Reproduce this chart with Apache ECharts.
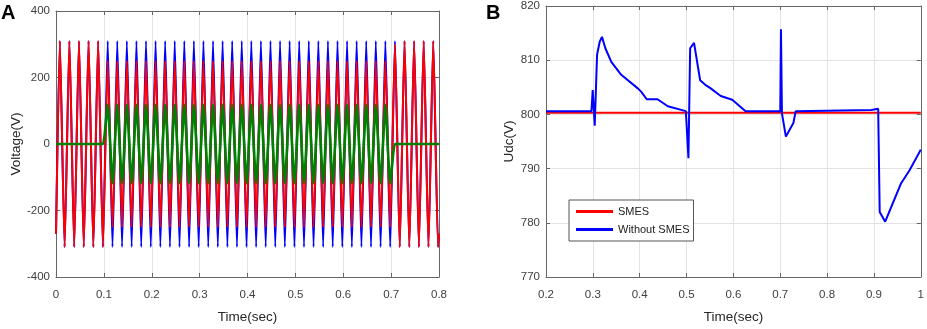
<!DOCTYPE html>
<html>
<head>
<meta charset="utf-8">
<script src="https://cdn.jsdelivr.net/npm/echarts@6/dist/echarts.min.js"></script>
<style>
html,body{margin:0;padding:0;background:#fff;}
#c{width:927px;height:329px;}
</style>
</head>
<body>
<div id="c"></div>
<script>
// ---------- Panel A: voltage waveforms (extremum values per half-cycle) ----------
const waveT0 = 0.008;        // time of first positive peak (s)
const waveHalfPeriod = 0.01; // 50 Hz
const waveStart = { blue: -270, red: -270, green: 0 };
const waveEnd   = { blue: -270, red: -270, green: 0 };
const blueExt = [
  310,-310,310,-310,310,-310,310,-310,310,-310,
  310,-310,310,-310,310,-310,310,-310,310,-310,
  310,-310,310,-310,310,-310,310,-310,310,-310,
  310,-310,310,-310,310,-310,310,-310,310,-310,
  310,-310,310,-310,310,-310,310,-310,310,-310,
  310,-310,310,-310,310,-310,310,-310,310,-310,
  310,-310,310,-310,310,-310,310,-310,310,-310,
  310,-310,310,-310,310,-310,310,-310,310,-310
];
const redExt = [
  310,-310,310,-310,310,-310,310,-310,310,-310,
  250,-250,250,-250,250,-250,250,-250,250,-250,
  250,-250,250,-250,250,-250,250,-250,250,-250,
  250,-250,250,-250,250,-250,250,-250,250,-250,
  250,-250,250,-250,250,-250,250,-250,250,-250,
  250,-250,250,-250,250,-250,250,-250,250,-250,
  250,-250,250,-250,250,-250,250,-250,250,-250,
  300,-310,310,-310,310,-310,310,-310,310,-310
];
const greenExt = [
  0,0,0,0,0,0,0,0,0,0,
  118,-118,118,-118,118,-118,118,-118,118,-118,
  118,-118,118,-118,118,-118,118,-118,118,-118,
  118,-118,118,-118,118,-118,118,-118,118,-118,
  118,-118,118,-118,118,-118,118,-118,118,-118,
  118,-118,118,-118,118,-118,118,-118,118,-118,
  118,-118,118,-118,118,-118,118,-118,118,-118,
  0,0,0,0,0,0,0,0,0,0
];
const timeTicksA = { min: 0, max: 0.8, step: 0.1 };
const voltTicks = { min: -400, max: 400, step: 200 };

// ---------- Panel B: DC-link voltage ----------
const smesT = [0.2, 1.0];
const smesU = [800.3, 800.3];
const noSmesT = [0.2, 0.297, 0.2997, 0.304, 0.309, 0.3146, 0.3195, 0.3267, 0.3394, 0.3606, 0.3959, 0.403, 0.415, 0.438, 0.46, 0.4985, 0.502, 0.504, 0.5077, 0.516, 0.529, 0.541, 0.5516, 0.573, 0.5975, 0.626, 0.700, 0.7015, 0.7036, 0.712, 0.728, 0.733, 0.8946, 0.909, 0.9123, 0.924, 0.958, 0.976, 1.0];
const noSmesU = [800.6, 800.6, 804.5, 797.9, 811.0, 813.4, 814.3, 812.2, 809.7, 807.3, 804.8, 804.2, 802.8, 802.8, 801.5, 800.6, 800.4, 791.9, 812.2, 813.2, 806.3, 805.4, 804.8, 803.4, 802.7, 800.6, 800.6, 815.7, 800.2, 795.9, 798.4, 800.6, 800.8, 801.05, 782.0, 780.2, 787.3, 789.7, 793.5];
const timeTicksB = { min: 0.2, max: 1.0, step: 0.1 };
const udcTicks = { min: 770, max: 820, step: 10 };

function buildWave(start, ext, end) {
  const pts = [[0, start]];
  ext.forEach((v, k) => pts.push([+(waveT0 + k * waveHalfPeriod).toFixed(4), v]));
  pts.push([0.8, end]);
  return pts;
}
const zip = (a, b) => a.map((x, i) => [x, b[i]]);

const FONT = "'Liberation Sans', Arial, sans-serif";
const axisColor = '#666';
const labelColor = '#404040';
const gridLineColor = '#e3e3e3';

function mainX(grid, r) {
  return {
    gridIndex: grid, type: 'value', position: 'bottom',
    min: r.min, max: r.max, interval: r.step,
    name: 'Time(sec)', nameLocation: 'middle', nameGap: 33,
    nameTextStyle: { fontFamily: FONT, fontSize: 13.5, color: '#262626' },
    axisLine: { show: true, onZero: false, lineStyle: { color: axisColor, width: 1 } },
    axisTick: { show: true, inside: true, length: 4, lineStyle: { color: axisColor } },
    axisLabel: { fontFamily: FONT, fontSize: 11.5, color: labelColor, margin: 12 },
    splitLine: { show: true, lineStyle: { color: gridLineColor, width: 1 } }
  };
}
function sideX(grid, r) {
  return {
    gridIndex: grid, type: 'value', position: 'top',
    min: r.min, max: r.max, interval: r.step,
    axisLine: { show: true, onZero: false, lineStyle: { color: axisColor, width: 1 } },
    axisTick: { show: true, inside: true, length: 4, lineStyle: { color: axisColor } },
    axisLabel: { show: false }, splitLine: { show: false }
  };
}
function mainY(grid, r, name, gap) {
  return {
    gridIndex: grid, type: 'value', position: 'left',
    min: r.min, max: r.max, interval: r.step,
    name: name, nameLocation: 'middle', nameGap: gap, nameRotate: 90,
    nameTextStyle: { fontFamily: FONT, fontSize: 13.5, color: '#262626' },
    axisLine: { show: true, onZero: false, lineStyle: { color: axisColor, width: 1 } },
    axisTick: { show: true, inside: true, length: 4, lineStyle: { color: axisColor } },
    axisLabel: { fontFamily: FONT, fontSize: 11.5, color: labelColor, margin: 6 },
    splitLine: { show: true, lineStyle: { color: gridLineColor, width: 1 } }
  };
}
function sideY(grid, r) {
  return {
    gridIndex: grid, type: 'value', position: 'right',
    min: r.min, max: r.max, interval: r.step,
    axisLine: { show: true, onZero: false, lineStyle: { color: axisColor, width: 1 } },
    axisTick: { show: true, inside: true, length: 4, lineStyle: { color: axisColor } },
    axisLabel: { show: false }, splitLine: { show: false }
  };
}
function line(name, data, xi, yi, color, w, smooth) {
  return {
    name: name, type: 'line', data: data, xAxisIndex: xi, yAxisIndex: yi,
    showSymbol: false, symbol: 'none', smooth: smooth || false,
    lineStyle: { color: color, width: w }, itemStyle: { color: color },
    emphasis: { disabled: true }, silent: true
  };
}

const chart = echarts.init(document.getElementById('c'), null, { renderer: 'canvas' });
chart.setOption({
  animation: false,
  backgroundColor: '#fff',
  title: [
    { text: 'A', left: 1, top: 3, padding: 0, textStyle: { fontFamily: FONT, fontSize: 20, fontWeight: 'bold', color: '#000' } },
    { text: 'B', left: 486, top: 3, padding: 0, textStyle: { fontFamily: FONT, fontSize: 20, fontWeight: 'bold', color: '#000' } }
  ],
  grid: [
    { left: 56, top: 11, width: 383, height: 267, containLabel: false },
    { left: 546, top: 6, width: 377, height: 271, containLabel: false }
  ],
  legend: {
    data: [{ name: 'SMES', icon: 'rect' }, { name: 'Without SMES', icon: 'rect' }],
    orient: 'vertical', left: 569, top: 200,
    itemWidth: 37, itemHeight: 3, itemGap: 7,
    padding: [6, 4, 6, 7],
    backgroundColor: '#fff', borderColor: '#555', borderWidth: 1,
    textStyle: { fontFamily: FONT, fontSize: 11, color: '#222' },
    selectedMode: false
  },
  xAxis: [mainX(0, timeTicksA), sideX(0, timeTicksA), mainX(1, timeTicksB), sideX(1, timeTicksB)],
  yAxis: [mainY(0, voltTicks, 'Voltage(V)', 30), sideY(0, voltTicks), mainY(1, udcTicks, 'Udc(V)', 30), sideY(1, udcTicks)],
  series: [
    line('Blue phase', buildWave(waveStart.blue, blueExt, waveEnd.blue), 0, 0, '#0000ff', 2, 0.18),
    line('Red phase', buildWave(waveStart.red, redExt, waveEnd.red), 0, 0, '#ff0000', 2, 0.18),
    line('Green phase', buildWave(waveStart.green, greenExt, waveEnd.green), 0, 0, '#008000', 2.6, 0.18),
    line('SMES', zip(smesT, smesU), 2, 2, '#ff0000', 2.2),
    line('Without SMES', zip(noSmesT, noSmesU), 2, 2, '#0000ff', 2)
  ]
});
</script>
</body>
</html>
